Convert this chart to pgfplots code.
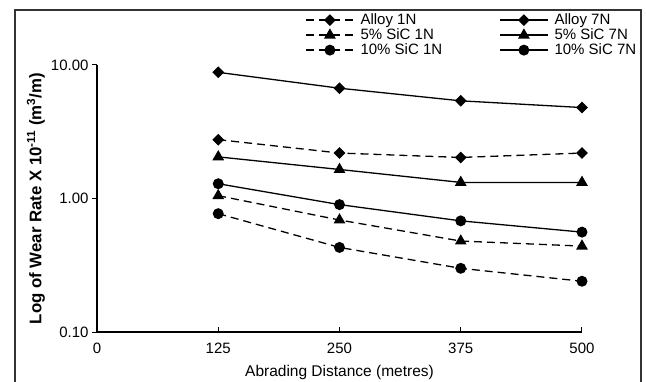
\documentclass[border=0pt]{standalone}
\usepackage{pgfplots}
\pgfplotsset{compat=1.18}
\usepackage{fontspec}
\setmainfont{Liberation Sans}
\begin{document}
\begin{tikzpicture}[x=1pt,y=1pt]
\useasboundingbox (0,0) rectangle (646,381);
\draw[line width=1.2pt, black!80] (15,-10) rectangle (641,371);
\begin{axis}[
  at={(97pt,49pt)}, anchor=south west,
  width=485pt, height=267pt, scale only axis,
  xmin=0, xmax=500, ymin=0.1, ymax=10, ymode=log,
  axis x line=bottom, axis y line=left,
  axis line style={-, line width=1.5pt},
  xtick={0,125,250,375,500},
  xticklabels={0,125,250,375,500},
  ytick={0.1,1,10},
  yticklabels={0.10,1.00,10.00},
  yminorticks=false, xminorticks=false,
  tick align=outside, major tick length=5pt,
  tick style={line width=1pt, black},
  xtick style={yshift=5pt},
  ticklabel style={font=\fontsize{15}{18}\selectfont},
  xticklabel style={yshift=-3pt},
  clip=false,
  xlabel={Abrading Distance (metres)},
  ylabel={\textbf{Log of Wear Rate X 10\textsuperscript{-11} (m\textsuperscript{3}/m)}},
  xlabel style={at={(axis description cs:0.5,-0.150)}, anchor=center, font=\fontsize{15.5}{19}\selectfont},
  ylabel style={at={(axis description cs:-0.126,0.5)}, anchor=center, font=\fontsize{16.8}{19}\selectfont},
  legend columns=2,
  legend cell align=left,
  legend style={draw=none, fill=none, inner sep=0pt,
    at={(axis description cs:0.429,1.195)}, anchor=north west,
    font=\fontsize{15}{18}\selectfont,
    nodes={inner xsep=3pt, inner ysep=0pt, text height=11pt, text depth=3pt},
    row sep=1pt,
    /tikz/column 2/.style={column sep=54pt}},
  legend image code/.code={\draw[mark repeat=2,mark phase=2] plot coordinates {(0pt,0pt) (24pt,0pt) (48pt,0pt)}; \path (51pt,0pt);},
  every axis plot/.append style={line width=1.3pt, black},
  dashedline/.style={dash pattern=on 8pt off 5pt},
]
\addplot[dashedline, mark=square*, mark size=3.5pt, mark options={solid, rotate=45}] coordinates {(125,2.76) (250,2.19) (375,2.03) (500,2.19)};
\addlegendentry{Alloy 1N}
\addplot[mark=square*, mark size=3.5pt, mark options={rotate=45}] coordinates {(125,8.81) (250,6.70) (375,5.39) (500,4.80)};
\addlegendentry{Alloy 7N}
\addplot[dashedline, mark=triangle*, mark size=5.5pt, mark options={solid}] coordinates {(125,1.05) (250,0.69) (375,0.48) (500,0.44)};
\addlegendentry{5\% SiC 1N}
\addplot[mark=triangle*, mark size=5.5pt] coordinates {(125,2.05) (250,1.65) (375,1.32) (500,1.32)};
\addlegendentry{5\% SiC 7N}
\addplot[dashedline, mark=*, mark size=4.8pt, mark options={solid}] coordinates {(125,0.77) (250,0.43) (375,0.30) (500,0.24)};
\addlegendentry{10\% SiC 1N}
\addplot[mark=*, mark size=4.8pt] coordinates {(125,1.29) (250,0.90) (375,0.68) (500,0.56)};
\addlegendentry{10\% SiC 7N}
\end{axis}
\end{tikzpicture}
\end{document}
